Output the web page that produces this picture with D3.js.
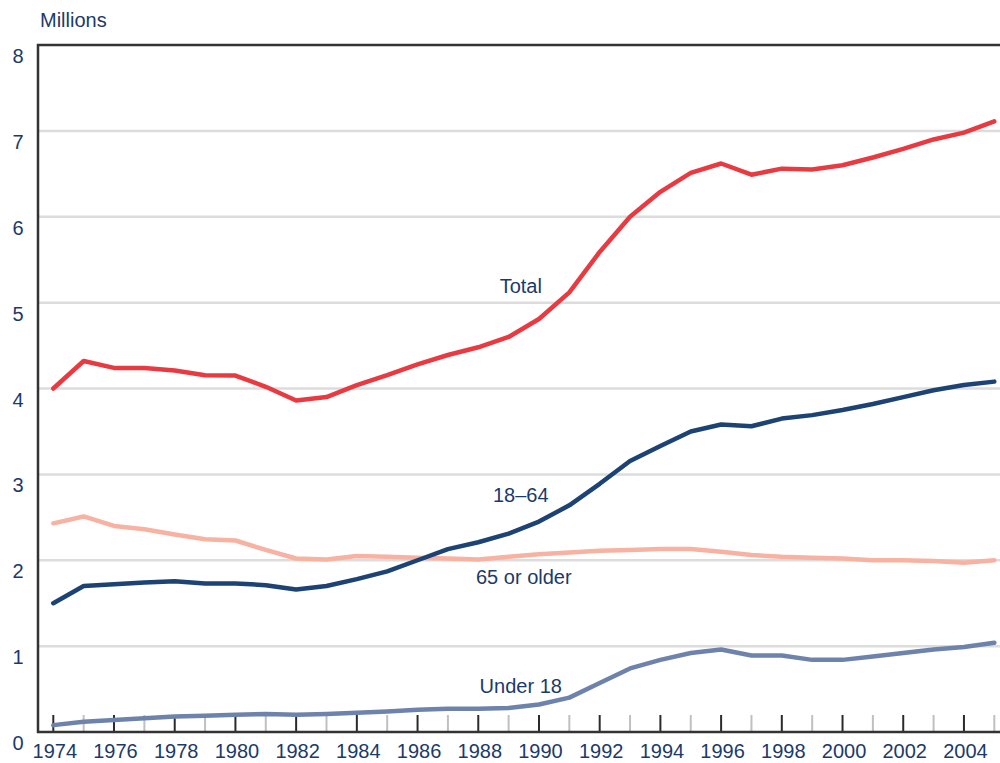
<!DOCTYPE html>
<html>
<head>
<meta charset="utf-8">
<script src="https://cdn.jsdelivr.net/npm/d3@7"></script>
<style>
  body { margin: 0; background: #fff; }
  svg text { font-family: "Liberation Sans", Arial, sans-serif; fill: #1b3a6a; }
</style>
</head>
<body>
<div id="chart"></div>
<script>
// years 1974 - 2005
const years = d3.range(1974, 2006)

const total   = [4.00, 4.32, 4.24, 4.24, 4.21, 4.155, 4.15, 4.02, 3.86, 3.90,
                 4.04, 4.155, 4.28, 4.39, 4.48, 4.60, 4.81, 5.12, 5.59, 6.00,
                 6.29, 6.51, 6.62, 6.49, 6.56, 6.55, 6.60, 6.69, 6.79, 6.90,
                 6.98, 7.11]
const adults  = [1.50, 1.70, 1.72, 1.74, 1.755, 1.73, 1.73, 1.71, 1.66, 1.70,
                 1.78, 1.87, 2.00, 2.13, 2.21, 2.31, 2.45, 2.64, 2.89, 3.155,
                 3.33, 3.50, 3.58, 3.56, 3.65, 3.69, 3.75, 3.82, 3.90, 3.98,
                 4.04, 4.08]
const elderly = [2.43, 2.51, 2.40, 2.36, 2.30, 2.245, 2.23, 2.12, 2.02, 2.01,
                 2.05, 2.04, 2.03, 2.02, 2.01, 2.04, 2.07, 2.09, 2.11, 2.12,
                 2.13, 2.13, 2.10, 2.06, 2.04, 2.03, 2.02, 2.00, 2.00, 1.99,
                 1.97, 2.00]
const children = [0.08, 0.12, 0.14, 0.16, 0.18, 0.19, 0.20, 0.21, 0.20, 0.21,
                  0.225, 0.24, 0.26, 0.27, 0.27, 0.28, 0.32, 0.40, 0.57, 0.74,
                  0.84, 0.92, 0.96, 0.89, 0.89, 0.84, 0.84, 0.88, 0.92, 0.96,
                  0.99, 1.04]

// lx, ly = where the series name sits (year, millions)
const series = [
    { name: "65 or older", values: elderly,  color: "#f8b2a2", lx: 1989.5, ly: 1.72 },
    { name: "Under 18",    values: children, color: "#6e83ab", lx: 1989.4, ly: 0.45 },
    { name: "18\u201364",  values: adults,   color: "#1c4373", lx: 1989.4, ly: 2.68 },
    { name: "Total",       values: total,    color: "#e93a41", lx: 1989.4, ly: 5.11 }
]

const yTicks = d3.range(0, 9)
const xLabels = d3.range(1974, 2006, 2)

const width = 1000, height = 763
const margin = { top: 45, left: 38, right: 0, bottom: 31 }

const svg = d3.select("#chart").append("svg")
    .attr("width", width).attr("height", height)

// 1974 sits a bit inside the left axis
const x = d3.scaleLinear().domain([1974, 2005]).range([53.3, 994.3])
const y = d3.scaleLinear().domain([0, 8]).range([height - margin.bottom, margin.top])

// gridlines
svg.append("g").selectAll("line")
    .data(yTicks.filter(d => d > 0 && d < 8))
    .join("line")
    .attr("x1", margin.left).attr("x2", width)
    .attr("y1", d => y(d)).attr("y2", d => y(d))
    .attr("stroke", "#dcdcdc").attr("stroke-width", 2.5)

// y labels hang just below their gridline
svg.append("g").selectAll("text")
    .data(yTicks)
    .join("text")
    .attr("x", 23.5).attr("y", d => y(d) + 18)
    .attr("text-anchor", "end")
    .attr("font-size", 20)
    .text(d => d)

svg.append("text")
    .attr("x", 40).attr("y", 27)
    .attr("font-size", 20)
    .text("Millions")

// x ticks, dark on even years, grey on odd
svg.append("g").selectAll("line")
    .data(years)
    .join("line")
    .attr("x1", d => x(d)).attr("x2", d => x(d))
    .attr("y1", y(0)).attr("y2", y(0) - 17)
    .attr("stroke", d => d % 2 == 0 ? "#2b2b2b" : "#c0c0c0")
    .attr("stroke-width", 2)

svg.append("g").selectAll("text")
    .data(xLabels)
    .join("text")
    .attr("x", d => x(d) + 1.5).attr("y", 758)
    .attr("text-anchor", "middle")
    .attr("font-size", 20)
    .text(d => d)

// frame: left, top, bottom
svg.append("path")
    .attr("d", `M${width},${margin.top}H${margin.left}V${y(0)}H${width}`)
    .attr("fill", "none").attr("stroke", "#333").attr("stroke-width", 2.5)

const line = d3.line()
    .x((d, i) => x(years[i]))
    .y(d => y(d))

svg.append("g").selectAll("path")
    .data(series)
    .join("path")
    .attr("d", d => line(d.values))
    .attr("fill", "none")
    .attr("stroke", d => d.color)
    .attr("stroke-width", 4.5)
    .attr("stroke-linejoin", "round")
    .attr("stroke-linecap", "round")

svg.append("g").selectAll("text")
    .data(series)
    .join("text")
    .attr("x", d => x(d.lx)).attr("y", d => y(d.ly))
    .attr("text-anchor", "middle")
    .attr("font-size", 20)
    .text(d => d.name)
</script>
</body>
</html>
